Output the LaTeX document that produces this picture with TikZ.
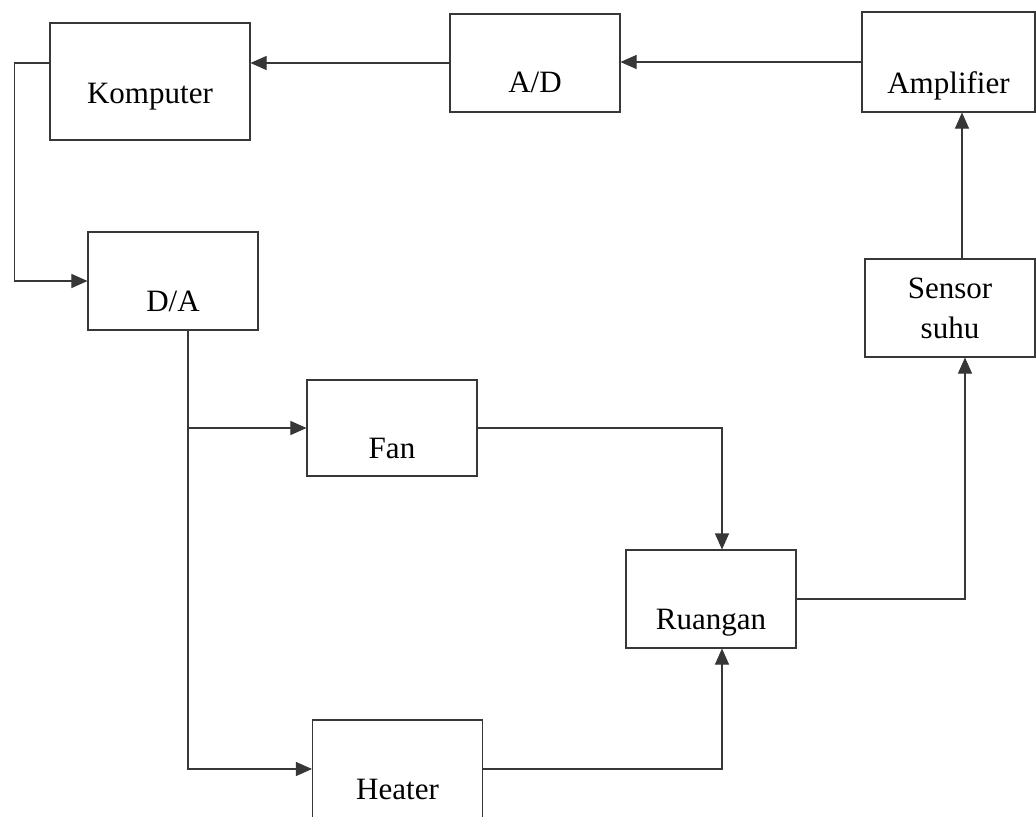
\documentclass[tikz,border=0pt]{standalone}
\usepackage{fontspec}
\setmainfont{Liberation Serif}
\usetikzlibrary{arrows.meta,positioning}
\definecolor{abu}{RGB}{55,55,55}
\tikzset{
  blok/.style={draw=abu, line width=0.9pt, minimum width=5.1cm, minimum height=2.94cm, inner sep=2pt, font=\fontsize{26.5}{34}\selectfont},
  turun/.style={text depth=0pt, text height=#1},
  turun/.default=1.8cm,
  panah/.style={draw=abu, line width=0.9pt, -{Triangle[length=0.48cm,width=0.42cm]}}
}

\begin{document}
\begin{tikzpicture}[x=0.03cm, y=-0.03cm]
	\path[use as bounding box, fill=white] (0,0) rectangle (1036,817);
	% Dibuja los bloques
	\node[blok, turun=1.3cm, minimum width=6cm, minimum height=3.51cm] (komp) at (150,81.5) {Komputer};
	\node[blok, turun] (ad) at (535,63) {A/D};
	\node[blok, turun=1.9cm, minimum width=5.19cm, minimum height=3cm] (amp) at (948.5,62) {Amplifier};
	\node[blok, turun] (da) at (173,281) {D/A};
	\node[blok, align=center] (sensor) at (950,308) {Sensor\\suhu};
	\node[blok, turun, minimum height=2.88cm] (fan) at (392,428) {Fan};
	\node[blok, turun] (ruang) at (711,599) {Ruangan};
	\node[blok, turun] (heater) at (397.5,769) {Heater};
	% Conecta los bloques
	\draw[panah] (amp.west) -- (amp.west -| ad.east);
	\draw[panah] (ad.west) -- (ad.west -| komp.east);
	\draw[panah] (komp.west |- ad.west) -- ++(-35,0) |- (da.west);
	\coordinate (cabang) at ([xshift=0.45cm]da.south);
	\draw[panah] (cabang) |- (heater.west);
	\draw[panah] (cabang |- fan.west) -- (fan.west);
	\draw[panah] (fan.east) -| ([xshift=0.33cm]ruang.north);
	\draw[panah] (heater.east) -| ([xshift=0.33cm]ruang.south);
	\draw[panah] (ruang.east) -| ([xshift=0.45cm]sensor.south);
	\draw[panah] ([xshift=0.36cm]sensor.north) -- ([xshift=0.36cm]sensor.north |- amp.south);
\end{tikzpicture}
\end{document}
